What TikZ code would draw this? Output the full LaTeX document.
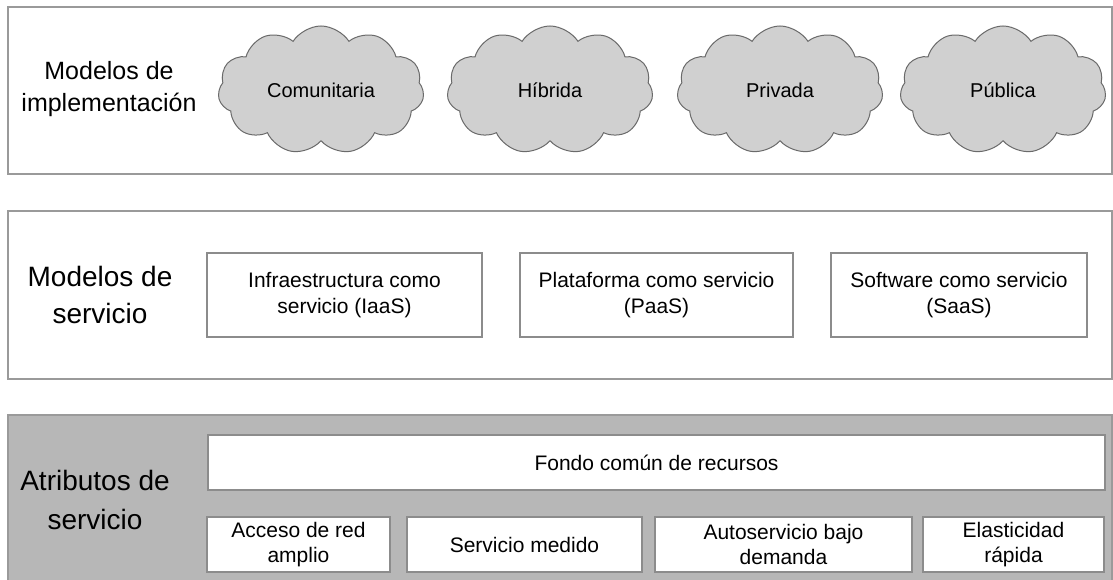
\documentclass[tikz,border=0pt]{standalone}
\usepackage{fontspec}
\setmainfont{Liberation Sans}
\usetikzlibrary{shapes.symbols}

\definecolor{panelline}{HTML}{9A9A9A}
\definecolor{panelfill}{HTML}{B7B7B7}
\definecolor{cloudline}{HTML}{6A6A6A}
\definecolor{cloudfill}{HTML}{D0D0D0}
\definecolor{boxline}{HTML}{8C8C8C}

\begin{document}
\begin{tikzpicture}[x=1pt,y=-1pt]
\tikzstyle{every node}+=[inner sep=0pt]
\tikzstyle{panel}=[draw=panelline, line width=1.3pt]
\tikzstyle{nube}=[cloud, cloud puffs=11, cloud puff arc=115, cloud ignores aspect, draw=cloudline, fill=cloudfill, line width=1pt, minimum width=206pt, minimum height=128pt, font=\fontsize{20}{24}\selectfont]
\tikzstyle{caja}=[rectangle, draw=boxline, fill=white, line width=1.1pt, align=center, font=\fontsize{21}{26}\selectfont]
\tikzstyle{rotulo}=[align=center]
\useasboundingbox (0,0) rectangle (1113,580);
% paneles
\draw [panel, fill=white] (8,7) rectangle (1112,174);
\draw [panel, fill=white] (8,211) rectangle (1112,379);
\draw [panel, fill=panelfill] (8,415) rectangle (1112,590);
% modelos de implementacion
\node [rotulo, font=\fontsize{25}{32}\selectfont] (impl) at (109,89) {Modelos de\\implementación};
\node [nube] (comunitaria) at (321,90) {Comunitaria};
\node [nube] (hibrida) at (550,90) {Híbrida};
\node [nube] (privada) at (780,90) {Privada};
\node [nube] (publica) at (1003,90) {Pública};
% modelos de servicio
\node [rotulo, font=\fontsize{28}{37}\selectfont] (serv) at (100,295) {Modelos de\\servicio};
\node [caja, minimum width=275pt, minimum height=84pt] (iaas) at (344.5,295) {Infraestructura como\\servicio (IaaS)};
\node [caja, minimum width=273pt, minimum height=84pt] (paas) at (656.5,295) {Plataforma como servicio\\(PaaS)};
\node [caja, minimum width=256pt, minimum height=84pt] (saas) at (959,295) {Software como servicio\\(SaaS)};
% atributos de servicio
\node [rotulo, font=\fontsize{28}{39}\selectfont] (atrib) at (95,500) {Atributos de\\servicio};
\node [caja, minimum width=897pt, minimum height=55pt] (fondo) at (656.5,462.5) {Fondo común de recursos};
\node [caja, minimum width=183pt, minimum height=55pt, font=\fontsize{21}{25}\selectfont] (acceso) at (298.5,544.5) {Acceso de red\\amplio};
\node [caja, minimum width=235pt, minimum height=55pt] (medido) at (524.5,544.5) {Servicio medido};
\node [caja, minimum width=257pt, minimum height=55pt, font=\fontsize{21}{25}\selectfont] (auto) at (783.5,544.5) {Autoservicio bajo\\demanda};
\node [caja, minimum width=181pt, minimum height=55pt, font=\fontsize{21}{25}\selectfont] (elastic) at (1013.5,544.5) {Elasticidad\\rápida};
\end{tikzpicture}
\end{document}
